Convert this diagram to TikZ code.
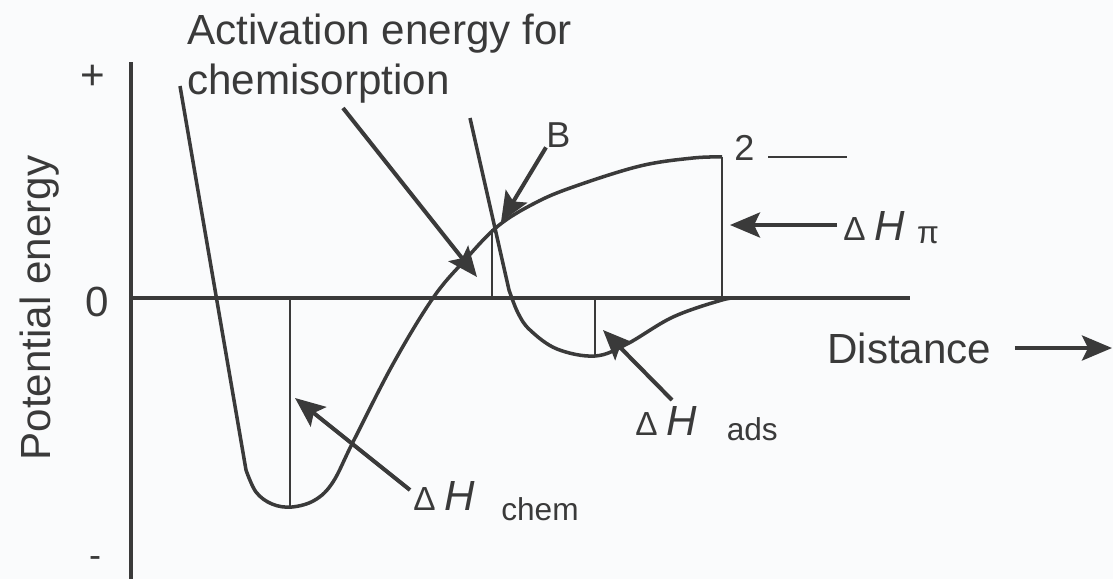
\documentclass[tikz,border=0pt]{standalone}
\usepackage{fontspec}
\setmainfont{Liberation Sans}
\usetikzlibrary{arrows.meta}
\definecolor{InkGray}{RGB}{58,58,58}
\definecolor{PaperWhite}{RGB}{250,251,252}
\newcommand{\bigtxt}{\fontsize{24}{28.3}\selectfont}
\newcommand{\midtxt}{\fontsize{20.5}{24}\selectfont}
\newcommand{\subtxt}{\fontsize{18}{21}\selectfont}
\newcommand{\dHsym}{{\fontsize{19}{22}\selectfont Δ}\hspace{5pt}\textit{H}}
\tikzset{
  axis/.style={draw=InkGray,line width=2.8pt},
  curve/.style={draw=InkGray,line width=2pt,line join=round},
  drop/.style={draw=InkGray,line width=1.4pt},
  pointer/.style={-{Stealth[length=6mm,width=5mm,inset=1.2mm]},draw=InkGray,fill=InkGray,line width=2.3pt},
  lbl/.style={text=InkGray,inner sep=0pt,font=\bigtxt},
  smalllbl/.style={text=InkGray,inner sep=0pt,font=\midtxt},
}
\begin{document}
\begin{tikzpicture}[x=0.02cm,y=-0.02cm]
  \fill[PaperWhite] (0,0) rectangle (1113,579);
  \useasboundingbox (0,0) rectangle (1113,579);
  % axes
  \draw[axis] (131,62) -- (131,579);
  \draw[axis] (131,298) -- (910,298);
  \node[lbl,rotate=90,anchor=base] (pe) at (51,308) {Potential energy};
  \node[lbl] (plus) at (93,77) {+};
  \node[lbl] (zero) at (97,302) {0};
  \node[smalllbl] (minus) at (95,562) {-};
  \node[lbl,anchor=base west] (dist) at (827,363) {Distance};
  \coordinate (distend) at (1112,348);
  \draw[pointer] (distend -| dist.east) ++(23,0) -- (distend);
  % chemisorption curve
  \draw[curve] (180,86) -- plot[smooth,tension=0.6] coordinates {(246,470) (256,492) (272,504) (292,507) (315,500) (333,482) (353,442) (393,364) (433,298) (465,260) (498,226) (535,203) (573,187) (640,166) (693,158) (722,157)};
  % physisorption curve
  \draw[curve] (470,118) -- plot[smooth,tension=0.6] coordinates {(509,290) (518,313) (530,330) (557,349) (595,356) (627,344) (673,317) (722,300) (738,298)};
  % drops to the zero line
  \draw[drop] (290,298) -- (290,507);
  \draw[drop] (492,298) -- (492,229);
  \draw[drop] (595,298) -- (595,356);
  \draw[drop] (722,298) -- (722,157);
  % labels
  \node[lbl,anchor=north west,align=left] (act) at (187,14) {Activation energy for\\chemisorption};
  \node[smalllbl,anchor=base west] (blbl) at (546,147) {B};
  \node[smalllbl,anchor=base west] (two) at (734,160) {2};
  \draw[drop] (768,157) -- (847,157);
  \node[lbl,anchor=base west] (dhpi) at (843,240) {\dHsym\hspace{7pt}\raisebox{-2pt}{\subtxt π}};
  \node[lbl,anchor=base west] (dhads) at (635,435) {\dHsym\hspace{17pt}\raisebox{-3pt}{\subtxt ads}};
  \node[lbl,anchor=base west] (dhchem) at (413,510) {\dHsym\hspace{15pt}\raisebox{-6pt}{\subtxt chem}};
  % pointers
  \coordinate (acttail) at (343,108);
  \coordinate (acttip) at (477,277);
  \coordinate (btip) at (501,222);
  \coordinate (pitip) at (730,225);
  \coordinate (adstail) at (672,400);
  \coordinate (adstip) at (603,330);
  \coordinate (chemtail) at (410,490);
  \coordinate (chemtip) at (295,398);
  \draw[pointer] (acttail) -- (acttip);
  \draw[pointer] (blbl.south west) -- (btip);
  \draw[pointer] (dhpi.west |- pitip) ++(-6,0) -- (pitip);
  \draw[pointer] (adstail) -- (adstip);
  \draw[pointer] (chemtail) -- (chemtip);
\end{tikzpicture}
\end{document}
